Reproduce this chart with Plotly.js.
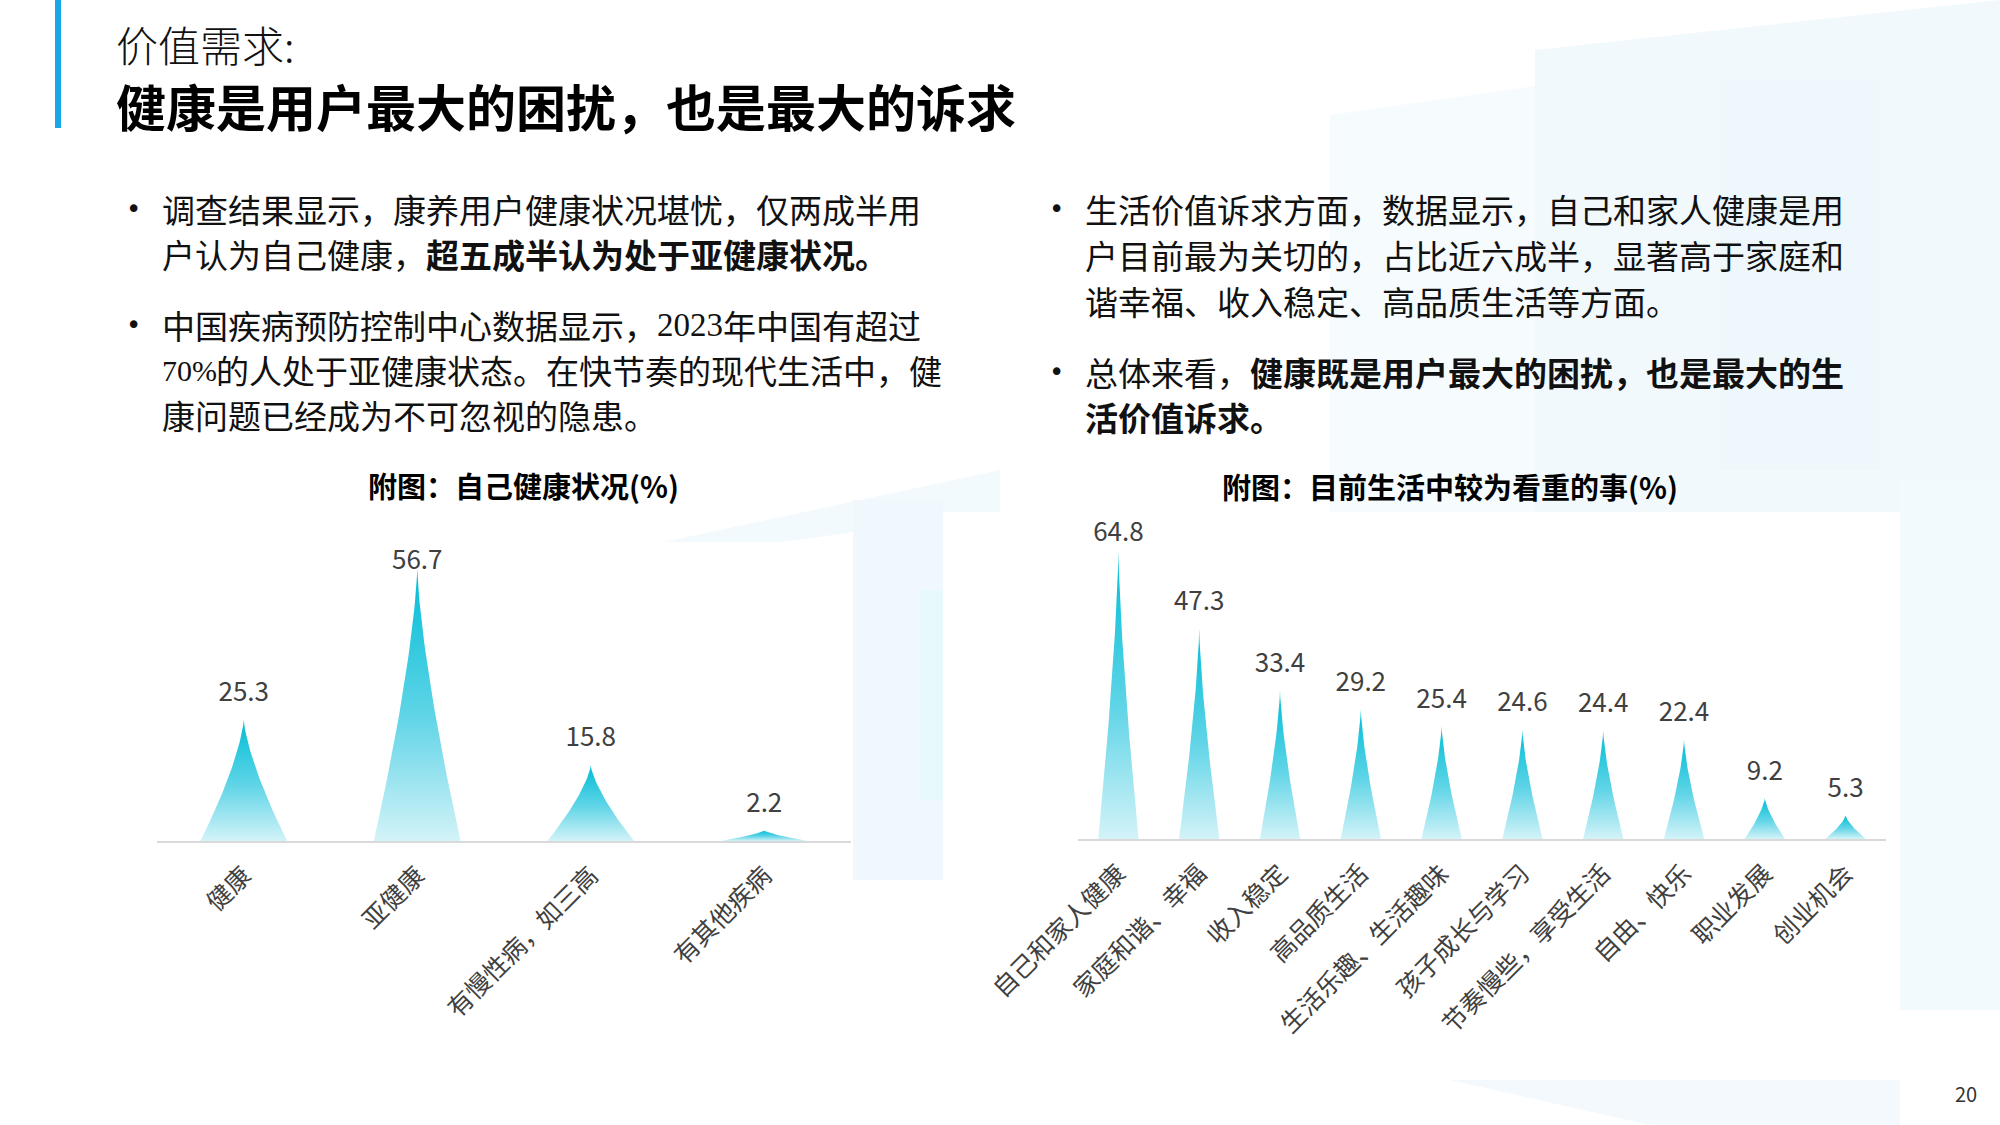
<!DOCTYPE html>
<html>
<head>
<meta charset="utf-8">
<script src="https://cdn.plot.ly/plotly-3.0.1.min.js"></script>
<style>
  html, body { margin: 0; padding: 0; background: #ffffff; }
  #chart { width: 2000px; height: 1125px; }
</style>
</head>
<body>
<div id="chart"></div>
<script>
// chart data
const healthCats = ['健康', '亚健康', '有慢性病，如三高', '有其他疾病'];
const healthVals = [25.3, 56.7, 15.8, 2.2];

const valueCats = ['自己和家人健康', '家庭和谐、幸福', '收入稳定', '高品质生活', '生活乐趣、生活趣味',
  '孩子成长与学习', '节奏慢些，享受生活', '自由、快乐', '职业发展', '创业机会'];
const valueVals = [64.8, 47.3, 33.4, 29.2, 25.4, 24.6, 24.4, 22.4, 9.2, 5.3];

const W = 2000, H = 1125;
const FONT = 'Noto Sans CJK SC, Noto Sans, sans-serif';
const SERIF = 'Liberation Serif, serif';
const BODY = 33;
const px = (x) => x / W;
const py = (y) => 1 - y / H;

const spikeScale = [[0, '#d3f3f8'], [0.45, '#62d5e7'], [1, '#00bdd6']];

// outline of one spike, in axis units
function spike(c, v, xa, ya) {
  const hw = 0.25, n = 40, xs = [], ys = [];
  for (let i = 0; i <= n; i++) {
    const h = i / n;
    xs.push(c + hw * Math.pow(1 - h, 1.4));
    ys.push(v * h);
  }
  for (let i = n; i >= 0; i--) {
    const h = i / n;
    xs.push(c - hw * Math.pow(1 - h, 1.4));
    ys.push(v * h);
  }
  return {
    x: xs, y: ys, xaxis: xa, yaxis: ya,
    type: 'scatter', mode: 'lines', fill: 'toself',
    line: { width: 0, color: 'rgba(0,0,0,0)' },
    fillgradient: { type: 'vertical', colorscale: spikeScale },
    hoverinfo: 'skip', showlegend: false
  };
}

// value labels sit a fixed gap above the tip, but never above the plot top
function labels(vals, xa, ya, gap, cap) {
  return {
    x: vals.map((v, i) => i), y: vals.map(v => Math.min(v + gap, cap)),
    xaxis: xa, yaxis: ya,
    type: 'scatter', mode: 'text',
    text: vals.map(v => v.toFixed(1)),
    textposition: 'middle center',
    textfont: { family: FONT, size: 26, color: '#404040' },
    cliponaxis: false, hoverinfo: 'skip', showlegend: false
  };
}

const traces = [];
healthVals.forEach((v, i) => traces.push(spike(i, v, 'x', 'y')));
traces.push(labels(healthVals, 'x', 'y', 5.3, 58));
valueVals.forEach((v, i) => traces.push(spike(i, v, 'x2', 'y2')));
traces.push(labels(valueVals, 'x2', 'y2', 5.6, 68.5));

function catAxis(cats, d0, d1, anchor) {
  return {
    domain: [px(d0), px(d1)], anchor: anchor,
    range: [-0.5, cats.length - 0.5],
    tickvals: cats.map((c, i) => i), ticktext: cats,
    tickangle: -45, ticks: '',
    ticklabelstandoff: 8,
    tickfont: { family: FONT, size: 25, color: '#404040' },
    showgrid: false, zeroline: false,
    showline: true, linecolor: '#d9d9d9', linewidth: 2,
    fixedrange: true
  };
}

// text pieces: [x, y, html, family, size]
const textLines = [
  [161, 209, '调查结果显示，康养用户健康状况堪忧，仅两成半用'],
  [161, 254, '户认为自己健康，<b>超五成半认为处于亚健康状况。</b>'],
  [161, 325, '中国疾病预防控制中心数据显示，'],
  [656, 325, '2023', SERIF, 33],
  [722, 325, '年中国有超过'],
  [161, 370, '70%', SERIF, 30],
  [215, 370, '的人处于亚健康状态。在快节奏的现代生活中，健'],
  [161, 415, '康问题已经成为不可忽视的隐患。'],
  [1084, 209, '生活价值诉求方面，数据显示，自己和家人健康是用'],
  [1084, 255, '户目前最为关切的，占比近六成半，显著高于家庭和'],
  [1084, 301, '谐幸福、收入稳定、高品质生活等方面。'],
  [1084, 372, '总体来看，<b>健康既是用户最大的困扰，也是最大的生</b>'],
  [1084, 417, '<b>活价值诉求。</b>']
];
const bullets = [[124, 209], [124, 325], [1047, 209], [1047, 372]];

const annotations = [];
annotations.push({
  xref: 'paper', yref: 'paper', x: px(114), y: py(44), xanchor: 'left', yanchor: 'middle',
  text: '价值需求:', showarrow: false,
  font: { family: FONT, size: 42, color: '#111111', weight: 300 }
});
annotations.push({
  xref: 'paper', yref: 'paper', x: px(114), y: py(105), xanchor: 'left', yanchor: 'middle',
  text: '<b>健康是用户最大的困扰，也是最大的诉求</b>', showarrow: false,
  font: { family: FONT, size: 50, color: '#000000' }
});
textLines.forEach(t => annotations.push({
  xref: 'paper', yref: 'paper', x: px(t[0]), y: py(t[1]), xanchor: 'left', yanchor: 'middle',
  text: t[2], showarrow: false, borderpad: 0,
  font: { family: t[3] || FONT, size: t[4] || BODY, color: '#111111' }
}));
bullets.forEach(b => annotations.push({
  xref: 'paper', yref: 'paper', x: px(b[0]), y: py(b[1]), xanchor: 'left', yanchor: 'middle',
  text: '•', showarrow: false, font: { family: 'DejaVu Sans, sans-serif', size: 26, color: '#111111' }
}));
annotations.push({
  xref: 'paper', yref: 'paper', x: px(523), y: py(485), xanchor: 'center', yanchor: 'middle',
  text: '<b>附图：自己健康状况(%)</b>', showarrow: false,
  font: { family: FONT, size: 29, color: '#000000' }
});
annotations.push({
  xref: 'paper', yref: 'paper', x: px(1450), y: py(486), xanchor: 'center', yanchor: 'middle',
  text: '<b>附图：目前生活中较为看重的事(%)</b>', showarrow: false,
  font: { family: FONT, size: 29, color: '#000000' }
});
annotations.push({
  xref: 'paper', yref: 'paper', x: px(1966), y: py(1093), xanchor: 'center', yanchor: 'middle',
  text: '20', showarrow: false, font: { family: FONT, size: 20, color: '#333333' }
});

function rect(x0, y0, x1, y1, color) {
  return { type: 'rect', xref: 'paper', yref: 'paper', layer: 'below',
    x0: px(x0), x1: px(x1), y0: py(y1), y1: py(y0),
    fillcolor: color, line: { width: 0 } };
}
function poly(pts, color) {
  const d = pts.map((p, i) => (i ? 'L' : 'M') + px(p[0]) + ',' + py(p[1])).join(' ') + ' Z';
  return { type: 'path', xref: 'paper', yref: 'paper', layer: 'below',
    path: d, fillcolor: color, line: { width: 0 } };
}

const shapes = [
  // faint background panels
  poly([[1330, 115], [2000, 20], [2000, 560], [1330, 600]], '#f6fbfe'),
  poly([[1535, 50], [2000, 0], [2000, 520], [1535, 540]], '#f1f9fd'),
  rect(1720, 80, 1880, 470, '#eef8fc'),
  poly([[650, 545], [1000, 470], [1000, 512], [650, 560]], '#f3fafd'),
  rect(853, 500, 943, 880, '#f0f8fd'),
  rect(920, 590, 943, 800, '#e7f9fd'),
  rect(1900, 480, 2000, 1010, '#f3fafd'),
  poly([[1450, 1080], [1900, 1080], [1900, 1125], [1650, 1125]], '#f3f9fd'),
  // white chart panels
  rect(0, 542, 853, 1125, '#ffffff'),
  rect(943, 512, 1900, 1080, '#ffffff'),
  // accent bar
  rect(55, 0, 61, 128, '#1aa6ea')
];

const layout = {
  width: W, height: H,
  margin: { l: 0, r: 0, t: 0, b: 0 },
  paper_bgcolor: '#ffffff', plot_bgcolor: 'rgba(0,0,0,0)',
  font: { family: FONT, color: '#404040' },
  showlegend: false,
  xaxis: catAxis(healthCats, 157, 851, 'y'),
  yaxis: { domain: [py(841), py(553)], range: [0, 60], visible: false, fixedrange: true },
  xaxis2: catAxis(valueCats, 1078, 1886, 'y2'),
  yaxis2: { domain: [py(839), py(527.5)], range: [0, 70], visible: false, fixedrange: true, anchor: 'x2' },
  annotations: annotations,
  shapes: shapes
};

Plotly.newPlot('chart', traces, layout, { staticPlot: true });
</script>
</body>
</html>
